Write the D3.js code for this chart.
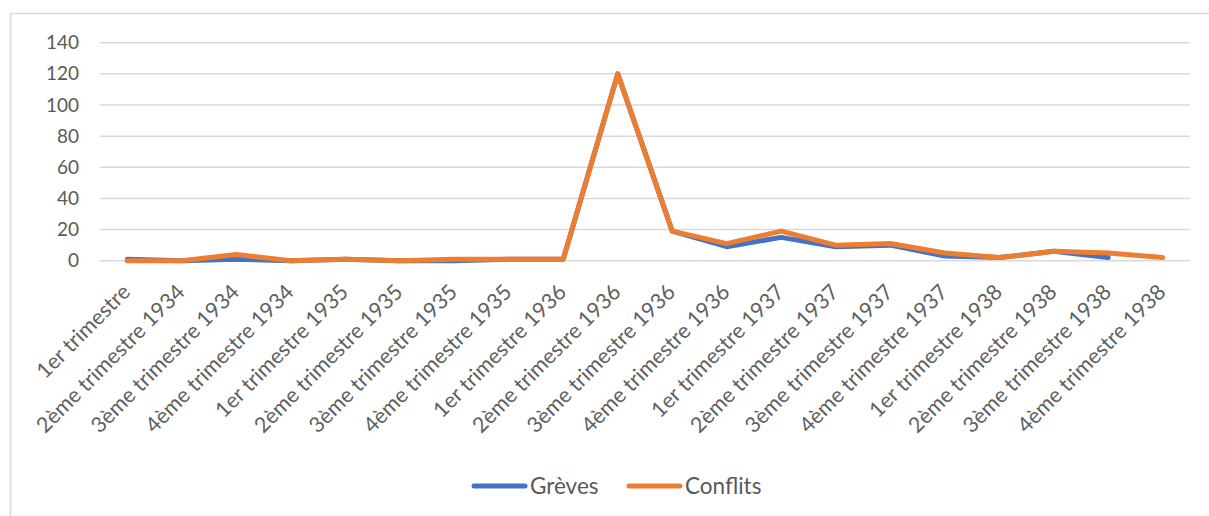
<!DOCTYPE html>
<html>
<head>
<meta charset="utf-8">
<script src="https://cdn.jsdelivr.net/npm/d3@7"></script>
<style>
  body { margin: 0; background: #fff; }
  text { font-family: Lato, "Open Sans", sans-serif; fill: #595959; }
</style>
</head>
<body>
<div id="chart"></div>
<script>
// categories (x axis) and the two series
let trimestres = [
    "1er trimestre", "2ème trimestre 1934", "3ème trimestre 1934", "4ème trimestre 1934",
    "1er trimestre 1935", "2ème trimestre 1935", "3ème trimestre 1935", "4ème trimestre 1935",
    "1er trimestre 1936", "2ème trimestre 1936", "3ème trimestre 1936", "4ème trimestre 1936",
    "1er trimestre 1937", "2ème trimestre 1937", "3ème trimestre 1937", "4ème trimestre 1937",
    "1er trimestre 1938", "2ème trimestre 1938", "3ème trimestre 1938", "4ème trimestre 1938"
]
let greves = [1, 0, 1, 0, 1, 0, 0, 1, 1, 120, 19, 9, 15, 9, 10, 3, 2, 6, 2, null]
let conflits = [0, 0, 4, 0, 1, 0, 1, 1, 1, 120, 19, 11, 19, 10, 11, 5, 2, 6, 5, 2]
let yTicks = [0, 20, 40, 60, 80, 100, 120, 140]

let seriesNames = ["Grèves", "Conflits"]
let seriesColor = ["#4472C4", "#ED7D31"]

let width = 1209
let height = 516

let margin = { top: 42.7, right: 19, bottom: 255.3, left: 100 }

let svg = d3.select("#chart")
    .append("svg")
    .attr("width", width)
    .attr("height", height)

// chart frame (only top and left edges are visible)
svg.append("path")
    .attr("d", "M10.5,516 L10.5,13.5 L1209,13.5")
    .attr("fill", "none")
    .attr("stroke", "#D9D9D9")
    .attr("stroke-width", 1.5)

let x = d3.scalePoint()
    .domain(trimestres)
    .range([margin.left, width - margin.right])
    .padding(0.5)

let y = d3.scaleLinear()
    .domain([0, 140])
    .range([height - margin.bottom, margin.top])

// gridlines
svg.append("g")
    .selectAll("line")
    .data(yTicks)
    .enter()
    .append("line")
    .attr("x1", margin.left)
    .attr("x2", width - margin.right)
    .attr("y1", d => y(d))
    .attr("y2", d => y(d))
    .attr("stroke", "#D9D9D9")
    .attr("stroke-width", 1.5)

// y tick labels
svg.append("g")
    .selectAll("text")
    .data(yTicks)
    .enter()
    .append("text")
    .attr("x", 79)
    .attr("y", d => y(d))
    .attr("dy", "0.35em")
    .attr("text-anchor", "end")
    .style("font-size", "19px")
    .text(d => d)

// x tick labels, rotated
svg.append("g")
    .selectAll("text")
    .data(trimestres)
    .enter()
    .append("text")
    .attr("transform", d => "translate(" + (x(d) - 1) + ",288) rotate(-45)")
    .attr("dy", "0.35em")
    .attr("text-anchor", "end")
    .style("font-size", "21.5px")
    .style("fill", "#606060")
    .text(d => d)

// lines
let allSeries = [greves, conflits]
let line = d3.line()
    .defined(d => d != null)
    .x((d, i) => x(trimestres[i]))
    .y(d => y(d))

svg.append("g")
    .selectAll("path")
    .data(allSeries)
    .enter()
    .append("path")
    .attr("d", d => line(d))
    .attr("fill", "none")
    .attr("stroke", (d, i) => seriesColor[i])
    .attr("stroke-width", 5)
    .attr("stroke-linejoin", "round")
    .attr("stroke-linecap", "round")

// legend
let legendX = [472, 627]
for (let i in seriesNames) {
    svg.append("line")
        .attr("x1", legendX[i] + 2).attr("x2", legendX[i] + 53)
        .attr("y1", 486).attr("y2", 486)
        .attr("stroke", seriesColor[i])
        .attr("stroke-width", 5)
        .attr("stroke-linecap", "round")
    svg.append("text")
        .attr("x", legendX[i] + 58)
        .attr("y", 486)
        .attr("dy", "0.35em")
        .style("font-size", "22.5px")
        .text(seriesNames[i])
}
</script>
</body>
</html>
